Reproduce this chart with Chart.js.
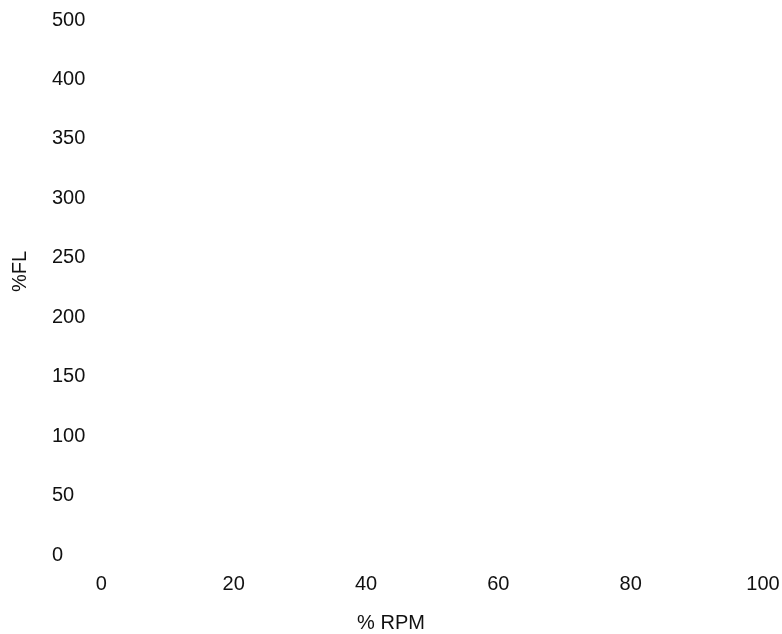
<!DOCTYPE html>
<html>
<head>
<meta charset="utf-8">
<title>%FL vs % RPM</title>
<script src="https://cdn.jsdelivr.net/npm/chart.js@4/dist/chart.umd.min.js"></script>
<style>
  html, body { margin: 0; padding: 0; background: #fff; }
  #wrap { width: 782px; height: 634px; }
</style>
</head>
<body>
<div id="wrap"><canvas id="chart" width="782" height="634"></canvas></div>
<script>
// ============================================================
// DATOS — el gráfico original no muestra ninguna serie,
// solo los ejes con sus etiquetas
// ============================================================
const xTicks = [0, 20, 40, 60, 80, 100];
const yTickLabels = ['0', '50', '100', '150', '200', '250', '300', '350', '400', '500'];
const seriesPoints = [];

const xTitle = '% RPM';
const yTitle = '%FL';

const textColor = '#111';
const fontFamily = "'Liberation Sans', Arial, Helvetica, sans-serif";
const fontSize = 20;

Chart.defaults.font.family = fontFamily;
Chart.defaults.font.size = fontSize;
Chart.defaults.color = textColor;

// Títulos de los ejes: se dibujan a mano, como en el original
const axisTitles = {
  id: 'axisTitles',
  afterDraw(chart) {
    const ctx = chart.ctx;
    ctx.save();
    ctx.fillStyle = textColor;
    ctx.font = `${fontSize}px ${fontFamily}`;
    ctx.textAlign = 'center';
    ctx.textBaseline = 'middle';
    ctx.fillText(xTitle, chart.width / 2, chart.height - 11);
    ctx.translate(20, (chart.chartArea.top + chart.chartArea.bottom) / 2 - 16);
    ctx.rotate(-Math.PI / 2);
    ctx.fillText(yTitle, 0, 0);
    ctx.restore();
  }
};

new Chart(document.getElementById('chart'), {
  type: 'scatter',
  data: {
    datasets: [{
      data: seriesPoints,
      showLine: true,
      borderColor: '#000',
      pointRadius: 0
    }]
  },
  options: {
    responsive: false,
    animation: false,
    layout: { padding: { left: 52, right: 19, top: 2, bottom: 21 } },
    plugins: { legend: { display: false }, tooltip: { enabled: false } },
    scales: {
      x: {
        type: 'linear',
        min: xTicks[0],
        max: xTicks[xTicks.length - 1],
        grid: { display: false, drawTicks: false },
        border: { display: false },
        ticks: { stepSize: 20, padding: 17, maxRotation: 0 },
        afterBuildTicks(scale) {
          scale.ticks = xTicks.map((v) => ({ value: v }));
        },
        // la etiqueta "100" puede llegar casi al borde del canvas
        afterFit(scale) {
          scale.paddingRight = 0;
        }
      },
      y: {
        type: 'linear',
        min: 0,
        max: (yTickLabels.length - 1) * 50,
        grid: { display: false, drawTicks: false },
        border: { display: false },
        ticks: {
          stepSize: 50,
          padding: 8,
          crossAlign: 'far',
          callback: (value, index) => yTickLabels[index]
        }
      }
    }
  },
  plugins: [axisTitles]
});
</script>
</body>
</html>
